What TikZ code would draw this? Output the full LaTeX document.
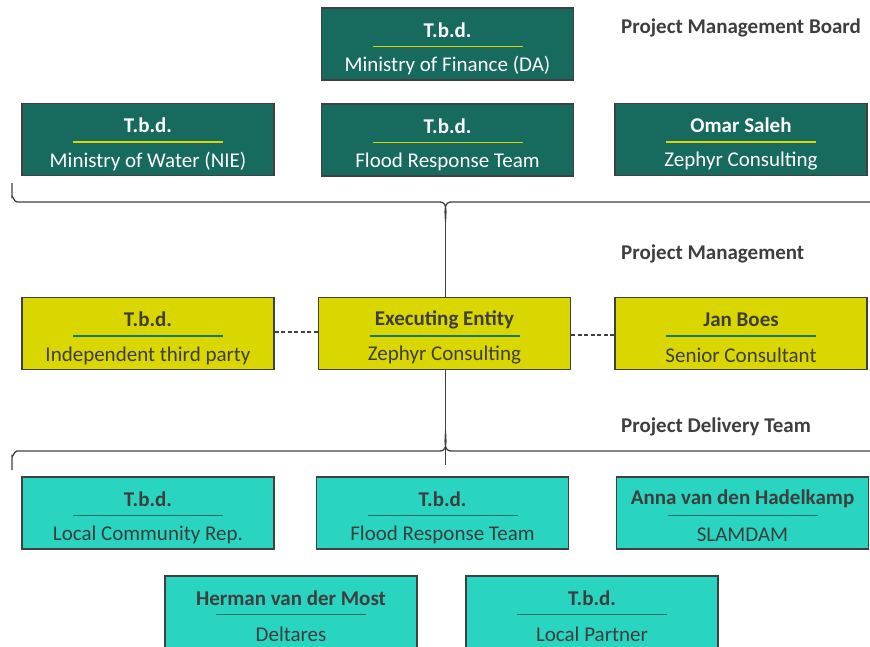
\documentclass[tikz,border=0pt]{standalone}
\usepackage{fontspec}
\setmainfont{Carlito}
\definecolor{dgreen}{RGB}{22,106,94}
\definecolor{yel}{RGB}{218,214,0}
\definecolor{cyn}{RGB}{41,212,192}
\definecolor{tealul}{RGB}{22,120,110}
\definecolor{cynul}{RGB}{28,112,100}
\definecolor{dtext}{RGB}{62,62,62}
\definecolor{bord}{RGB}{64,64,64}
\tikzset{
  box/.style={draw=bord,line width=1.3pt,minimum width=252pt,minimum height=72pt,inner sep=0pt},
  ttl/.style={font=\fontsize{21}{23}\selectfont\bfseries,inner sep=0pt},
  subt/.style={font=\fontsize{21}{23}\selectfont,inner sep=0pt},
  ul/.style={line width=1.6pt},
  conn/.style={draw=bord,line width=1.3pt},
  dconn/.style={draw=bord,line width=1.3pt,dash pattern=on 4pt off 2.5pt},
  lvl/.style={font=\fontsize{21}{23}\selectfont\bfseries,text=dtext,anchor=west,inner sep=0pt}
}
\newcommand\orgbox[8]{%
  \node[box,fill=#4] (#1) at (#2,#3) {};
  \node[ttl,text=#8] (#1t) at ([yshift=14pt]#1.center) {#5};
  \draw[ul,draw=#7] ([xshift=-75pt,yshift=-2.5pt]#1.center) -- ([xshift=75pt,yshift=-2.5pt]#1.center);
  \node[subt,text=#8] (#1s) at ([yshift=-22pt]#1.center) {#6};
}
\begin{document}
\begin{tikzpicture}[x=1pt,y=-1pt]
\useasboundingbox (0,0) rectangle (870,646);
\clip (0,0) rectangle (870,646);
% Board
\orgbox{fin}{447.5}{44}{dgreen}{T.b.d.}{Ministry of Finance (DA)}{yel}{white}
\orgbox{wat}{148}{139.5}{dgreen}{T.b.d.}{Ministry of Water (NIE)}{yel}{white}
\orgbox{frt}{447.5}{140}{dgreen}{T.b.d.}{Flood Response Team}{yel}{white}
\orgbox{oma}{741}{139.5}{dgreen}{Omar Saleh}{Zephyr Consulting}{yel}{white}
% Management
\orgbox{ind}{148}{333.5}{yel}{T.b.d.}{Independent third party}{tealul}{dtext}
\orgbox{exe}{444.5}{333.5}{yel}{Executing Entity}{Zephyr Consulting}{tealul}{dtext}
\orgbox{jan}{741}{333.5}{yel}{Jan Boes}{Senior Consultant}{tealul}{dtext}
% Delivery
\orgbox{loc}{148}{513}{cyn}{T.b.d.}{Local Community Rep.}{cynul}{dtext}
\orgbox{frd}{442.5}{513}{cyn}{T.b.d.}{Flood Response Team}{cynul}{dtext}
\orgbox{ann}{742.5}{513}{cyn}{Anna van den Hadelkamp}{SLAMDAM}{cynul}{dtext}
\orgbox{her}{291}{612}{cyn}{Herman van der Most}{Deltares}{cynul}{dtext}
\orgbox{lpa}{592}{612}{cyn}{T.b.d.}{Local Partner}{cynul}{dtext}
% level labels
\node[lvl] (l1) at (621,28) {Project Management Board};
\node[lvl] (l2) at (621,254) {Project Management};
\node[lvl] (l3) at (621,427) {Project Delivery Team};
% top brace
\coordinate (b1l) at (12,183);
\coordinate (b1t) at (445.5,222);
\path[conn] (b1l) -- (12,197) to[out=90,in=180] (17,202) -- (440,202)
  to[out=0,in=90] (445.5,222) to[out=90,in=180] (451,202) -- (880,202);
\path[conn] (b1t) -- (exe.north -| b1t);
% bottom brace
\coordinate (b2l) at (12,470);
\coordinate (b2e) at (445.5,465);
\path[conn] (b2l) -- (12,456) to[out=-90,in=180] (17,451) -- (440,451)
  to[out=0,in=-90] (445.5,431) to[out=-90,in=180] (451,451) -- (880,451);
\path[conn] (exe.south -| b2e) -- (b2e);
% dashed links
\path[dconn] (ind.east |- 0,332) -- (exe.west |- 0,332);
\path[dconn] (exe.east |- 0,335) -- (jan.west |- 0,335);
\end{tikzpicture}
\end{document}
